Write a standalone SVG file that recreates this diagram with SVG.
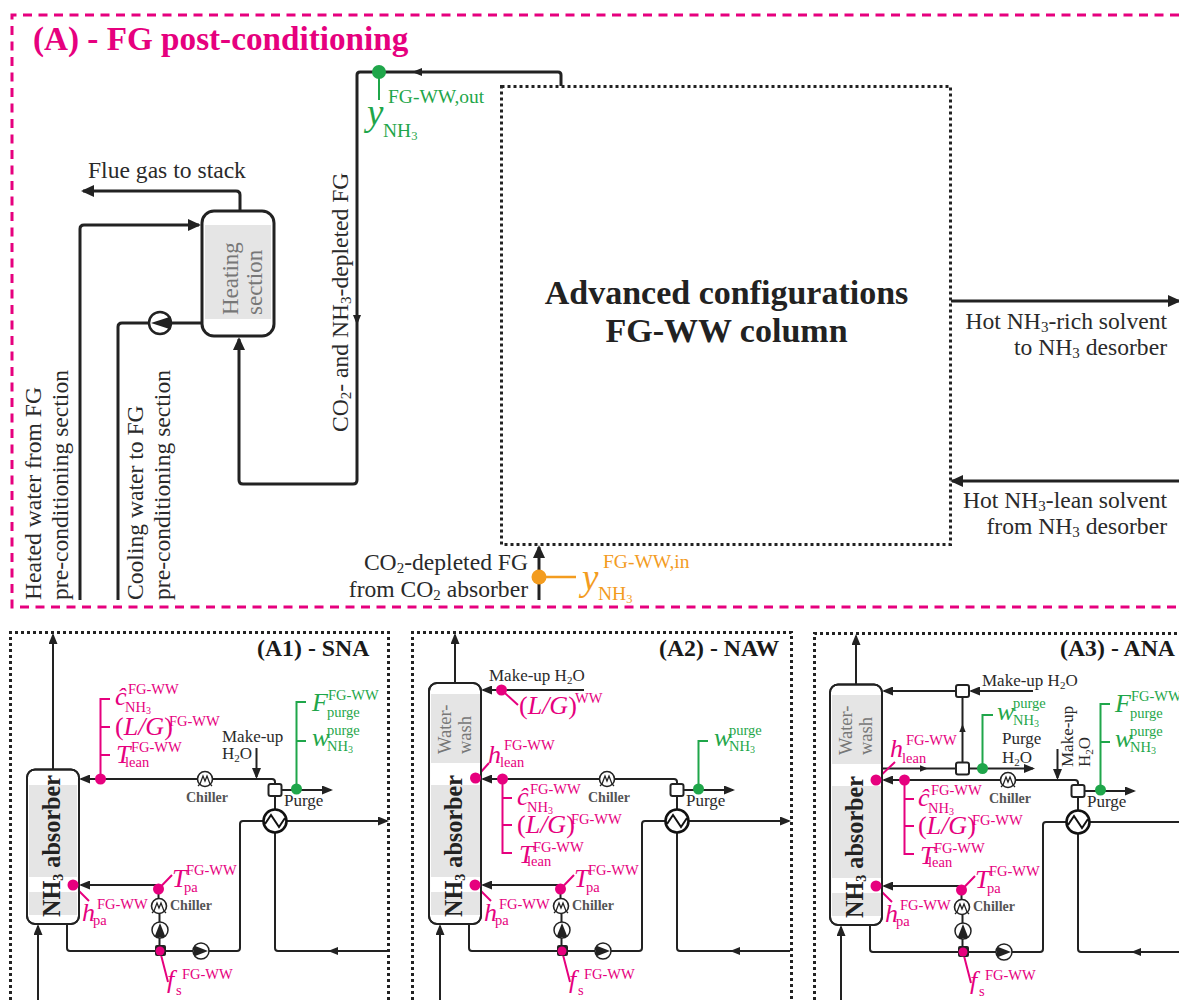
<svg xmlns="http://www.w3.org/2000/svg" xmlns:xlink="http://www.w3.org/1999/xlink" width="1179" height="1000" viewBox="0 0 1179 1000">
<style>
text{font-family:"Liberation Serif","Times New Roman",serif;fill:#2a2a2a}
.p2{fill:none;stroke:#222;stroke-width:2;stroke-linejoin:round}
.p3{fill:none;stroke:#222;stroke-width:3}
.dot{fill:none;stroke:#222;stroke-width:3;stroke-dasharray:3 3}
.pk{fill:none;stroke:#e6007e;stroke-width:2}
.gr{fill:none;stroke:#1fa64a;stroke-width:2}
.or{fill:none;stroke:#f39c1f;stroke-width:2.5}
.pd{fill:#e6007e}.gd{fill:#1fa64a}.od{fill:#f39c1f}
.band{fill:#e5e5e5}
.box{fill:#fff;stroke:#222;stroke-width:2}
.box3{fill:none;stroke:#222;stroke-width:2}
text.title{font-weight:bold;font-size:23.800px;fill:#1a1a1a}
text.lb{font-size:17px}
text.big{font-size:23.600px}
text.ch{font-size:14px;font-weight:bold;fill:#555}
text.abs{font-size:24.200px;font-weight:bold;fill:#222}
text.ww{font-size:18.500px;fill:#777}
text.hs{font-size:23px;fill:#777}
text.v{font-size:26px;font-style:italic}
text.vp{fill:#e6007e}
text.vg{fill:#1fa64a}
text.vo{fill:#f39c1f}
.s{font-size:14.500px;font-style:normal}
.t{font-size:10px;font-style:normal}
.n{font-style:normal}
.big3{font-size:15px}
.sm{font-size:11px}
.y{font-size:19.500px;font-style:normal}
.y3{font-size:12.500px;font-style:normal}
</style>
<defs>
<marker id="a" markerUnits="userSpaceOnUse" markerWidth="11" markerHeight="9" viewBox="0 0 11 9" refX="9" refY="4.500" orient="auto"><path d="M0,0L11,4.500L0,9Z" fill="#222"/></marker>
<marker id="A" markerUnits="userSpaceOnUse" markerWidth="13" markerHeight="12" viewBox="0 0 13 12" refX="11" refY="6" orient="auto"><path d="M0,0L13,6L0,12Z" fill="#222"/></marker>
<path id="tri" d="M-5,-4L5,0L-5,4Z" fill="#222"/>
<g id="chill"><circle r="7.500" fill="#fff" stroke="#222" stroke-width="1.600"/><path d="M-7,7L-5,5L-2,-3L0,2L2,-3L5,5L7,7" fill="none" stroke="#222" stroke-width="1.300"/></g>
<g id="pump"><circle r="8" fill="#fff" stroke="#222" stroke-width="1.500"/><path d="M-7,-5.500L7,0L-7,5.500Z" fill="#222"/></g>
<g id="hx"><circle r="11.500" fill="#fff" stroke="#111" stroke-width="2.600"/><path d="M-10,3L-4,-6L4,6L10,-3" fill="none" stroke="#111" stroke-width="2"/></g>
<rect id="spl" x="-6.500" y="-6" width="13" height="12" rx="2" fill="#fff" stroke="#222" stroke-width="2"/>
<g id="pipes">
<path class="p2" d="M275,785V782Q275,779 272,779H81" marker-end="url(#a)"/>
<path class="p2" d="M281,790H331" marker-end="url(#a)"/>
<path class="p2" d="M275,796V809"/>
<path class="p2" d="M263,821H243Q240,821 240,824V948Q240,951 237,951H70Q67,951 67,948V924"/>
<path class="p2" d="M287,821H387" marker-end="url(#a)"/>
<path class="p2" d="M275,833V948Q275,951 278,951H388"/>
<use href="#tri" transform="translate(333,951) rotate(180)"/>
<path class="p2" d="M159.500,950V912"/>
<path class="p2" d="M158.500,885H81" marker-end="url(#a)"/>
<path class="p2" d="M158.500,885V898"/>
<path class="p2" d="M38,1000V926" marker-end="url(#a)"/>
</g>
<g id="units">
<use href="#chill" x="205" y="779"/>
<use href="#chill" x="159" y="906"/>
<use href="#pump" transform="translate(160,930) rotate(-90)"/>
<use href="#pump" x="201" y="951"/>
<rect x="155" y="945" width="11" height="11" rx="2" fill="#222"/>
<use href="#spl" x="275" y="790"/>
<use href="#hx" x="275" y="821"/>
</g>
</defs>

<g id="panel-A">
<path d="M1179,15H12V607H1179" fill="none" stroke="#e6007e" stroke-width="3" stroke-dasharray="9 6.500"/>
<text x="33" y="50" style="font-size:33.200px;font-weight:bold;fill:#e6007e">(A) - FG post-conditioning</text>
</g>
<g id="connectors-A">
<path class="p3" d="M561,86V75Q561,72 558,72H360Q357,72 357,75V480Q357,484 353,484H243Q239,484 239,480V339" marker-end="url(#A)"/>
<use href="#tri" transform="translate(417,72) rotate(180)"/>
<use href="#tri" transform="translate(357,320) rotate(90)"/>
<path class="p3" d="M240,211V195Q240,191 236,191H83" marker-end="url(#A)"/>
<path class="p3" d="M80,600V229Q80,225 84,225H199" marker-end="url(#A)"/>
<path class="p3" d="M118,600V327Q118,323 122,323H202"/>
<path class="p3" d="M951,301H1179" marker-end="url(#A)"/>
<path class="p3" d="M1179,481H952" marker-end="url(#A)"/>
<path class="p3" d="M539,600V547" marker-end="url(#A)"/>
<path class="gr" d="M379,72V100"/>
<path class="or" d="M539,577H576"/>
</g>
<g id="node-heating">
<rect x="202" y="211" width="72" height="125" rx="12" fill="#fff" stroke="#222" stroke-width="3"/>
<rect class="band" x="205" y="225" width="66" height="94"/>
<text class="hs" transform="translate(238,315) rotate(-90)">Heating</text>
<text class="hs" transform="translate(262,315) rotate(-90)">section</text>
</g>
<g id="node-pump-A"><circle cx="160" cy="323" r="11" fill="#fff" stroke="#222" stroke-width="2.500"/><path d="M171,316.500V329.500L151,323Z" fill="#222"/></g>
<g id="node-column">
<rect x="501.500" y="86.500" width="449" height="458" fill="none" stroke="#222" stroke-width="3" stroke-dasharray="3 3"/>
<text x="726.500" y="304" text-anchor="middle" style="font-size:34px;font-weight:bold;fill:#222">Advanced configurations</text>
<text x="726.500" y="342" text-anchor="middle" style="font-size:34px;font-weight:bold;fill:#222">FG-WW column</text>
</g>
<g id="sensor-out">
<circle class="gd" cx="379" cy="72" r="7"/>
<text class="v vg" style="font-size:37px"><tspan x="367" y="125">y</tspan><tspan class="y" x="388" y="103">FG-WW,out</tspan><tspan class="y" x="383" y="137">NH</tspan><tspan class="y3" dy="3">3</tspan></text>
</g>
<g id="sensor-in">
<circle class="od" cx="539" cy="577" r="7.500"/>
<text class="v vo" style="font-size:37px"><tspan x="582" y="590">y</tspan><tspan class="y" x="603" y="568">FG-WW,in</tspan><tspan class="y" x="598" y="600">NH</tspan><tspan class="y3" dy="3">3</tspan></text>
</g>
<g id="labels-A">
<text class="big" x="88" y="178">Flue gas to stack</text>
<text class="big" transform="translate(41,600) rotate(-90)">Heated water from FG</text>
<text class="big" transform="translate(68,600) rotate(-90)">pre-conditioning section</text>
<text class="big" transform="translate(143,600) rotate(-90)">Cooling water to FG</text>
<text class="big" transform="translate(170,600) rotate(-90)">pre-conditioning section</text>
<text class="big" transform="translate(348,432) rotate(-90)">CO<tspan class="big3" dy="3">2</tspan><tspan dy="-3">- and NH</tspan><tspan class="big3" dy="3">3</tspan><tspan dy="-3">-depleted FG</tspan></text>
<text class="big" x="1167" y="329" text-anchor="end">Hot NH<tspan class="big3" dy="3">3</tspan><tspan dy="-3">-rich solvent</tspan></text>
<text class="big" x="1167" y="355" text-anchor="end">to NH<tspan class="big3" dy="3">3</tspan><tspan dy="-3"> desorber</tspan></text>
<text class="big" x="1167" y="508" text-anchor="end">Hot NH<tspan class="big3" dy="3">3</tspan><tspan dy="-3">-lean solvent</tspan></text>
<text class="big" x="1167" y="534" text-anchor="end">from NH<tspan class="big3" dy="3">3</tspan><tspan dy="-3"> desorber</tspan></text>
<text class="big" x="528" y="570" text-anchor="end">CO<tspan class="big3" dy="3">2</tspan><tspan dy="-3">-depleted FG</tspan></text>
<text class="big" x="528" y="597" text-anchor="end">from CO<tspan class="big3" dy="3">2</tspan><tspan dy="-3"> absorber</tspan></text>
</g>

<g id="panel-A1">
<path class="dot" d="M10.500,1000V632.500H388.500V1000"/>
<text class="title" x="257" y="656">(A1) - SNA</text>
<g id="connectors-A1">
<use href="#pipes"/>
<path class="p2" d="M53,769V635" marker-end="url(#a)"/>
<path class="p2" d="M256.500,748V777" marker-end="url(#a)"/>
<path class="pk" d="M110,699H100.500V779M100.500,727H110M100.500,755H110M73,885L89,901M158.500,889L172,875M160,951L168,982"/>
<path class="gr" d="M306,702H296.500V789M296.500,741H306"/>
</g>
<g id="node-absorber-A1">
<rect class="box" x="27" y="769.500" width="52" height="154.500" rx="8"/>
<rect class="band" x="29" y="785" width="48" height="92"/><rect class="band" x="29" y="892" width="48" height="23"/>
<rect class="box3" x="27" y="769.500" width="52" height="154.500" rx="8"/>
<text class="abs" transform="translate(60,917) rotate(-90)">NH<tspan style="font-size:14px" dy="3">3</tspan><tspan dy="-3"> absorber</tspan></text>
</g>
<g id="units-A1"><use href="#units"/></g>
<g id="sensors-A1">
<circle class="pd" cx="100.500" cy="779" r="5.500"/><circle class="pd" cx="73" cy="885" r="5.500"/><circle class="pd" cx="158.500" cy="889" r="5.500"/><circle class="pd" cx="160" cy="951" r="4.500"/><circle class="gd" cx="296.500" cy="789" r="5.500"/>
</g>
<g id="labels-A1">
<text class="lb" x="222" y="742">Make-up</text>
<text class="lb" x="222" y="759">H<tspan class="sm" dy="3">2</tspan><tspan dy="-3">O</tspan></text>
<text class="lb" x="284" y="806">Purge</text>
<text class="ch" x="186" y="802">Chiller</text>
<text class="ch" x="170" y="910">Chiller</text>
<text class="v vp"><tspan x="115" y="705">ĉ</tspan><tspan class="s" x="128" y="694">FG-WW</tspan><tspan class="s" x="125" y="712">NH</tspan><tspan class="t" dy="2">3</tspan></text>
<text class="v vp"><tspan class="n" x="115" y="735">(</tspan><tspan>L/G</tspan><tspan class="n">)</tspan><tspan class="s" x="169" y="726">FG-WW</tspan></text>
<text class="v vp"><tspan x="116" y="763">T</tspan><tspan class="s" x="131" y="752">FG-WW</tspan><tspan class="s" x="125" y="767">lean</tspan></text>
<text class="v vp"><tspan x="172" y="887">T</tspan><tspan class="s" x="186" y="875">FG-WW</tspan><tspan class="s" x="184" y="892">pa</tspan></text>
<text class="v vp"><tspan x="82" y="921">h</tspan><tspan class="s" x="97" y="909">FG-WW</tspan><tspan class="s" x="93" y="925">pa</tspan></text>
<text class="v vp"><tspan x="167" y="988">f</tspan><tspan class="s" x="182" y="979">FG-WW</tspan><tspan class="s" x="176" y="995">s</tspan></text>
<text class="v vg"><tspan x="312" y="711">F</tspan><tspan class="s" x="328" y="700">FG-WW</tspan><tspan class="s" x="327" y="717">purge</tspan></text>
<text class="v vg"><tspan x="312" y="746">w</tspan><tspan class="s" x="327" y="735">purge</tspan><tspan class="s" x="327" y="751">NH</tspan><tspan class="t" dy="2">3</tspan></text>
</g>
</g>

<g id="panel-A2">
<path class="dot" d="M412.500,1000V632.500H791.500V1000"/>
<text class="title" x="659" y="656">(A2) - NAW</text>
<g id="connectors-A2">
<use href="#pipes" x="402"/>
<path class="p2" d="M455,683V635" marker-end="url(#a)"/>
<path class="p2" d="M584,690H483" marker-end="url(#a)"/>
<path class="pk" d="M501.500,690L518,705M475.500,778L489,763M502.500,779V853H512M502.500,798H512M502.500,825H512M475,885L491,901M560.500,889L574,875M562,951L570,982"/>
<path class="gr" d="M708,741H698.500V789"/>
</g>
<g id="node-absorber-A2">
<rect class="box" x="429" y="683" width="52" height="241" rx="8"/>
<rect class="band" x="431" y="694" width="49" height="69"/><rect class="band" x="431" y="785" width="49" height="92"/><rect class="band" x="431" y="892" width="49" height="23"/>
<rect class="box3" x="429" y="683" width="52" height="241" rx="8"/>
<text class="ww" transform="translate(451,754) rotate(-90)">Water-</text>
<text class="ww" transform="translate(471,754) rotate(-90)">wash</text>
<text class="abs" transform="translate(462,917) rotate(-90)">NH<tspan style="font-size:14px" dy="3">3</tspan><tspan dy="-3"> absorber</tspan></text>
</g>
<g id="units-A2"><use href="#units" x="402"/></g>
<g id="sensors-A2">
<circle class="pd" cx="501.500" cy="690" r="5.500"/><circle class="pd" cx="475.500" cy="778" r="5.500"/><circle class="pd" cx="502.500" cy="779" r="5.500"/><circle class="pd" cx="475" cy="885" r="5.500"/><circle class="pd" cx="560.500" cy="889" r="5.500"/><circle class="pd" cx="562" cy="951" r="4.500"/><circle class="gd" cx="698.500" cy="789" r="5.500"/>
</g>
<g id="labels-A2">
<text class="lb" x="489" y="681">Make-up H<tspan class="sm" dy="3">2</tspan><tspan dy="-3">O</tspan></text>
<text class="lb" x="686" y="806">Purge</text>
<text class="ch" x="588" y="802">Chiller</text>
<text class="ch" x="572" y="910">Chiller</text>
<text class="v vp"><tspan class="n" x="519" y="714">(</tspan><tspan>L/G</tspan><tspan class="n">)</tspan><tspan class="s" x="575" y="703">WW</tspan></text>
<text class="v vp"><tspan x="488" y="763">h</tspan><tspan class="s" x="504" y="750">FG-WW</tspan><tspan class="s" x="500" y="767">lean</tspan></text>
<text class="v vp"><tspan x="517" y="805">ĉ</tspan><tspan class="s" x="530" y="794">FG-WW</tspan><tspan class="s" x="527" y="812">NH</tspan><tspan class="t" dy="2">3</tspan></text>
<text class="v vp"><tspan class="n" x="517" y="833">(</tspan><tspan>L/G</tspan><tspan class="n">)</tspan><tspan class="s" x="571" y="824">FG-WW</tspan></text>
<text class="v vp"><tspan x="519" y="863">T</tspan><tspan class="s" x="533" y="852">FG-WW</tspan><tspan class="s" x="527" y="866">lean</tspan></text>
<text class="v vp"><tspan x="574" y="887">T</tspan><tspan class="s" x="588" y="875">FG-WW</tspan><tspan class="s" x="586" y="892">pa</tspan></text>
<text class="v vp"><tspan x="484" y="921">h</tspan><tspan class="s" x="499" y="909">FG-WW</tspan><tspan class="s" x="495" y="925">pa</tspan></text>
<text class="v vp"><tspan x="569" y="988">f</tspan><tspan class="s" x="584" y="979">FG-WW</tspan><tspan class="s" x="578" y="995">s</tspan></text>
<text class="v vg"><tspan x="714" y="746">w</tspan><tspan class="s" x="729" y="735">purge</tspan><tspan class="s" x="729" y="751">NH</tspan><tspan class="t" dy="2">3</tspan></text>
</g>
</g>

<g id="panel-A3">
<path class="dot" d="M814.500,1000V633.500H1179"/>
<text class="title" x="1060" y="656">(A3) - ANA</text>
<g id="connectors-A3">
<use href="#pipes" x="803" y="1"/>
<path class="p2" d="M856,685V636" marker-end="url(#a)"/>
<path class="p2" d="M956,691H884" marker-end="url(#a)"/>
<path class="p2" d="M1033,691H971" marker-end="url(#a)"/>
<path class="p2" d="M962.500,762V697"/>
<use href="#tri" transform="translate(962.500,728) rotate(-90) scale(.8)"/>
<path class="p2" d="M883,768.500H956M969,768.500H1033" marker-end="url(#a)"/>
<use href="#tri" transform="translate(924,768.500) scale(.8)"/>
<path class="p2" d="M1057.500,749V778" marker-end="url(#a)"/>
<path class="pk" d="M876,780L895,762M904.500,780V854H914M904.500,799H914M904.500,826H914M876,886L892,902M961.500,890L975,876M963,952L971,983"/>
<path class="gr" d="M993,715H982.500V768M1110,704H1100.500V790M1100.500,742H1110"/>
</g>
<g id="node-absorber-A3">
<rect class="box" x="830" y="684.500" width="52" height="240.500" rx="8"/>
<rect class="band" x="832" y="695" width="49" height="69"/><rect class="band" x="832" y="786" width="49" height="92"/><rect class="band" x="832" y="893" width="49" height="23"/>
<rect class="box3" x="830" y="684.500" width="52" height="240.500" rx="8"/>
<text class="ww" transform="translate(852,755) rotate(-90)">Water-</text>
<text class="ww" transform="translate(872,755) rotate(-90)">wash</text>
<text class="abs" transform="translate(863,918) rotate(-90)">NH<tspan style="font-size:14px" dy="3">3</tspan><tspan dy="-3"> absorber</tspan></text>
</g>
<g id="units-A3"><use href="#units" x="803" y="1"/><use href="#spl" x="962.500" y="691"/><use href="#spl" x="962.500" y="768.500"/></g>
<g id="sensors-A3">
<circle class="pd" cx="876" cy="780" r="5.500"/><circle class="pd" cx="904.500" cy="780" r="5.500"/><circle class="pd" cx="876" cy="886" r="5.500"/><circle class="pd" cx="961.500" cy="890" r="5.500"/><circle class="pd" cx="963" cy="952" r="4.500"/><circle class="gd" cx="982.500" cy="768.500" r="5.500"/><circle class="gd" cx="1100.500" cy="790" r="5.500"/>
</g>
<g id="labels-A3">
<text class="lb" x="982" y="686">Make-up H<tspan class="sm" dy="3">2</tspan><tspan dy="-3">O</tspan></text>
<text class="lb" x="1002" y="744">Purge</text>
<text class="lb" x="1002" y="763">H<tspan class="sm" dy="3">2</tspan><tspan dy="-3">O</tspan></text>
<text class="lb" transform="translate(1073,767) rotate(-90)">Make-up</text>
<text class="lb" transform="translate(1090,767) rotate(-90)">H<tspan class="sm" dy="3">2</tspan><tspan dy="-3">O</tspan></text>
<text class="lb" x="1087" y="807">Purge</text>
<text class="ch" x="989" y="803">Chiller</text>
<text class="ch" x="973" y="911">Chiller</text>
<text class="v vp"><tspan x="890" y="757">h</tspan><tspan class="s" x="906" y="745">FG-WW</tspan><tspan class="s" x="902" y="763">lean</tspan></text>
<text class="v vp"><tspan x="918" y="806">ĉ</tspan><tspan class="s" x="931" y="795">FG-WW</tspan><tspan class="s" x="928" y="813">NH</tspan><tspan class="t" dy="2">3</tspan></text>
<text class="v vp"><tspan class="n" x="918" y="834">(</tspan><tspan>L/G</tspan><tspan class="n">)</tspan><tspan class="s" x="972" y="825">FG-WW</tspan></text>
<text class="v vp"><tspan x="920" y="864">T</tspan><tspan class="s" x="934" y="853">FG-WW</tspan><tspan class="s" x="928" y="867">lean</tspan></text>
<text class="v vp"><tspan x="975" y="888">T</tspan><tspan class="s" x="989" y="876">FG-WW</tspan><tspan class="s" x="987" y="893">pa</tspan></text>
<text class="v vp"><tspan x="885" y="922">h</tspan><tspan class="s" x="900" y="910">FG-WW</tspan><tspan class="s" x="896" y="926">pa</tspan></text>
<text class="v vp"><tspan x="970" y="989">f</tspan><tspan class="s" x="985" y="980">FG-WW</tspan><tspan class="s" x="979" y="996">s</tspan></text>
<text class="v vg"><tspan x="997" y="720">w</tspan><tspan class="s" x="1013" y="708">purge</tspan><tspan class="s" x="1013" y="725">NH</tspan><tspan class="t" dy="2">3</tspan></text>
<text class="v vg"><tspan x="1115" y="712">F</tspan><tspan class="s" x="1131" y="701">FG-WW</tspan><tspan class="s" x="1130" y="718">purge</tspan></text>
<text class="v vg"><tspan x="1115" y="747">w</tspan><tspan class="s" x="1130" y="736">purge</tspan><tspan class="s" x="1130" y="752">NH</tspan><tspan class="t" dy="2">3</tspan></text>
</g>
</g>
</svg>
